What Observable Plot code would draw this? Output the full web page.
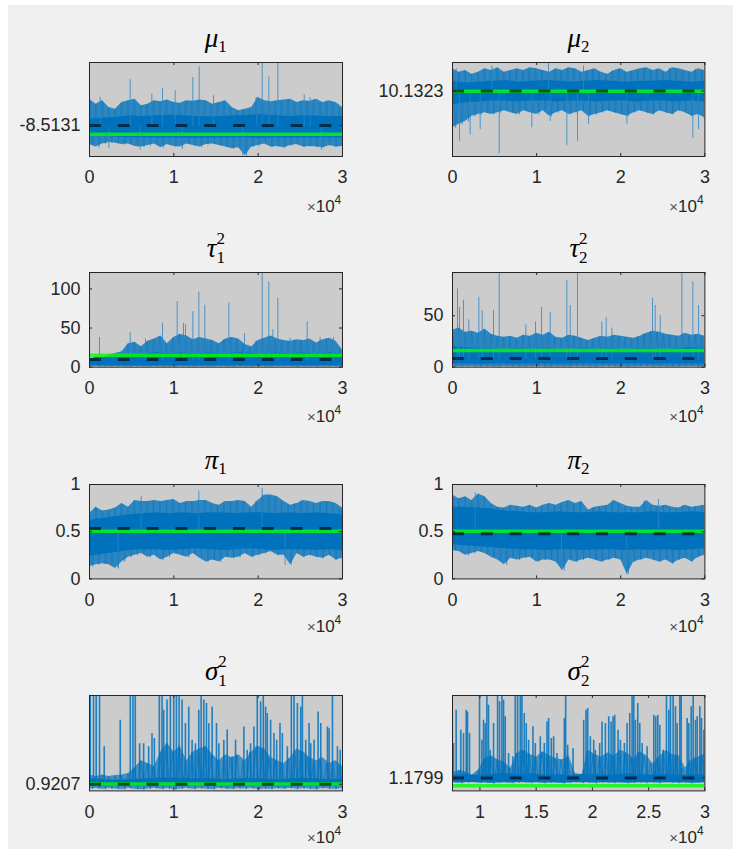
<!DOCTYPE html>
<html><head><meta charset="utf-8">
<script src="https://cdn.jsdelivr.net/npm/d3@7"></script>
<script src="https://cdn.jsdelivr.net/npm/@observablehq/plot@0.6"></script>
<style>
html,body{margin:0;padding:0;background:#fff;}
#root{position:relative;width:738px;height:849px;overflow:hidden;}
#fig{position:absolute;left:8px;top:5px;width:725px;height:844px;background:#f0f0f0;}
.panel{position:absolute;}
#overlay{position:absolute;left:0;top:0;pointer-events:none;}
</style></head>
<body><div id="root"><div id="fig"></div></div>
<script>
// ---------- DATA ----------
const titleSym = ["μ","μ","τ","τ","π","π","σ","σ"];
const titleSub = ["1","2","1","2","1","2","1","2"];
const titleSup = ["","","2","2","","","2","2"];

const ticksX = [0, 10000, 20000, 30000];
const ticksXs2 = [10000, 15000, 20000, 25000, 30000];

// mu1
const mu1Hi = [-7.67,-7.83,-7.72,-7.94,-7.99,-7.78,-7.72,-7.67,-7.88,-7.83,-7.72,-7.75,-7.70,-7.78,-7.80,-7.72,-7.74,-7.70,-7.72,-7.83,-7.78,-7.72,-7.94,-8.04,-7.99,-7.94,-7.62,-7.72,-7.75,-7.72,-7.70,-7.67,-7.78,-7.72,-7.74,-7.67,-7.78,-7.72,-7.78,-7.94];
const mu1Lo = [-9.12,-9.20,-9.10,-9.05,-9.08,-9.12,-9.10,-9.18,-9.20,-9.15,-9.10,-9.22,-9.12,-9.18,-9.20,-9.10,-9.15,-9.20,-9.12,-9.10,-9.15,-9.20,-9.25,-9.22,-9.48,-9.20,-9.15,-9.10,-9.20,-9.18,-9.22,-9.15,-9.12,-9.20,-9.18,-9.20,-9.22,-9.15,-9.20,-9.18];
const mu1CoreHi = [-8.30,-8.28,-8.25,-8.20,-8.22,-8.20,-8.18,-8.20,-8.22,-8.24,-8.22,-8.20,-8.18,-8.17,-8.20,-8.22,-8.20,-8.21,-8.23,-8.22];
const mu1CoreLo = [-8.84,-8.86,-8.88,-8.90,-8.90,-8.91,-8.90,-8.92,-8.92,-8.91,-8.90,-8.90,-8.91,-8.92,-8.90,-8.91,-8.90,-8.91,-8.90,-8.90];
const mu1Spikes = [[1265,-7.62],[4823,-7.05],[7392,-7.51],[8657,-7.32],[10159,-7.40],[12254,-6.98],[13005,-6.64],[14705,-7.56],[19844,-7.62],[20477,-6.40],[21267,-6.96],[22334,-6.40],[25457,-7.53],[26169,-7.62],[18184,-9.48],[2300,-9.25],[6000,-9.3],[11000,-9.28],[27500,-9.3]];
const mu1Ticks = [-8.5131];

// mu2
const mu2Hi = [10.38,10.34,10.36,10.32,10.34,10.38,10.36,10.39,10.34,10.36,10.38,10.36,10.39,10.38,10.36,10.34,10.38,10.36,10.39,10.38,10.34,10.36,10.38,10.34,10.32,10.36,10.38,10.34,10.36,10.38,10.39,10.36,10.38,10.34,10.39,10.38,10.36,10.34,10.38,10.36];
const mu2Lo = [9.72,9.76,9.79,9.85,9.87,9.89,9.87,9.89,9.91,9.89,9.87,9.91,9.89,9.87,9.91,9.85,9.89,9.91,9.87,9.89,9.91,9.85,9.87,9.89,9.91,9.89,9.87,9.85,9.89,9.91,9.89,9.87,9.91,9.89,9.87,9.91,9.89,9.85,9.87,9.83];
const mu2CoreHi = [10.24,10.22,10.23,10.24,10.25,10.23,10.24,10.25,10.24,10.23,10.24,10.25,10.24,10.23,10.24,10.24,10.25,10.24,10.23,10.24];
const mu2CoreLo = [9.98,10.00,10.01,10.02,10.02,10.01,10.02,10.02,10.01,10.02,10.02,10.01,10.02,10.02,10.01,10.02,10.02,10.01,10.02,10.01];
const mu2Spikes = [[436,10.38],[4676,10.41],[11414,10.47],[15575,10.41],[832,9.57],[2100,9.64],[3289,9.70],[5548,9.43],[9432,9.72],[11612,9.79],[13593,9.52],[14861,9.57],[16169,9.76],[20726,9.76],[28573,9.60],[29247,9.70]];
const mu2Ticks = [10.1323];

// tau1^2
const tau1Hi = [8.9,13.2,12,15.3,17.5,19.6,30,32,26,33,36,40,30,38,42,40,35,38,36,34,30,36,38,36,29,26,34,37,40,36,34,33,35,34,36,31,35,37,33,22];
const tau1Lo = [0.5,0.8,0.4,0.6,0.5,0.7,0.4,0.6,0.5,0.3,0.6,0.5,0.4,0.7,0.5,0.6,0.4,0.5,0.6,0.4,0.5,0.7,0.4,0.6,0.5,0.3,0.6,0.5,0.4,0.6,0.5,0.7,0.4,0.5,0.6,0.4,0.5,0.6,0.5,0.4];
const tau1CoreHi = [11,12,13,15,17,18,17,18,17,18,17,18,18,17,18,17,18,17,18,17];
const tau1CoreLo = [2.5,2.2,2,2,1.8,2,2.2,2,1.8,2,2.1,2,1.9,2,2.2,2,1.8,2,2.1,2];
const tau1Spikes = [[1186,38],[4823,44],[6641,36],[8657,56],[10396,84],[11147,56],[11385,54],[12254,71],[12966,96],[13677,79],[16524,82],[18382,43],[20477,125],[21267,109],[21742,48],[22334,88],[23797,37],[25813,58],[27355,38],[28936,38]];
const tau1Ticks = [0, 50, 100];

// tau2^2
const tau2Hi = [36,38,34,35,33,37,32,30,29,30,28,31,30,33,31,34,29,28,31,30,28,26,28,30,29,31,30,29,28,30,33,35,34,32,31,30,33,31,32,30];
const tau2Lo = [0.3,0.5,0.4,0.6,0.3,0.5,0.4,0.3,0.6,0.4,0.5,0.3,0.4,0.6,0.5,0.3,0.4,0.5,0.3,0.6,0.4,0.5,0.3,0.4,0.6,0.5,0.4,0.3,0.5,0.4,0.6,0.3,0.5,0.4,0.3,0.5,0.4,0.6,0.3,0.5];
const tau2CoreHi = [20,19,18,18,17,18,17,18,17,17,18,17,18,17,18,18,17,18,19,18];
const tau2CoreLo = [3,3,2.8,3,3,2.9,3,3,2.8,3,3,3,2.9,3,3,2.8,3,3,3,2.9];
const tau2Spikes = [[594,76],[832,58],[1308,65],[1942,46],[3131,68],[3527,55],[4874,55],[5548,95],[8719,41],[9868,44],[10581,58],[11612,53],[13593,84],[13990,60],[14861,95],[17754,44],[18269,48],[18943,38],[23778,67],[24095,60],[24689,50],[27265,95],[28573,83],[29247,60]];
const tau2Ticks = [0, 50];

// pi1
const pi1Hi = [0.69,0.76,0.72,0.73,0.75,0.80,0.76,0.83,0.82,0.82,0.83,0.82,0.83,0.84,0.80,0.82,0.82,0.83,0.83,0.80,0.78,0.82,0.82,0.83,0.82,0.76,0.83,0.89,0.89,0.87,0.82,0.78,0.80,0.83,0.82,0.80,0.82,0.82,0.80,0.75];
const pi1Lo = [0.13,0.15,0.16,0.15,0.11,0.18,0.23,0.25,0.27,0.23,0.25,0.20,0.23,0.27,0.25,0.23,0.27,0.22,0.18,0.20,0.18,0.23,0.22,0.23,0.27,0.23,0.25,0.27,0.29,0.25,0.25,0.15,0.27,0.23,0.25,0.23,0.22,0.25,0.20,0.22];
const pi1CoreHi = [0.62,0.64,0.66,0.68,0.69,0.70,0.69,0.70,0.69,0.70,0.70,0.69,0.70,0.70,0.69,0.70,0.69,0.70,0.69,0.68];
const pi1CoreLo = [0.24,0.26,0.28,0.30,0.31,0.31,0.30,0.31,0.32,0.31,0.30,0.31,0.32,0.31,0.30,0.31,0.31,0.30,0.31,0.30];
const pi1Spikes = [[6127,0.87],[12966,0.93],[20477,0.96],[3400,0.11],[23200,0.14]];
const piTicks = [0, 0.5, 1];

// pi2
const pi2Hi = [0.89,0.85,0.87,0.83,0.90,0.87,0.80,0.76,0.75,0.78,0.77,0.76,0.78,0.75,0.78,0.80,0.78,0.81,0.83,0.80,0.82,0.73,0.76,0.77,0.78,0.83,0.80,0.77,0.76,0.76,0.83,0.78,0.77,0.78,0.76,0.75,0.78,0.76,0.77,0.78];
const pi2Lo = [0.30,0.29,0.25,0.27,0.29,0.27,0.23,0.20,0.15,0.22,0.20,0.22,0.23,0.18,0.20,0.20,0.18,0.09,0.20,0.18,0.20,0.22,0.20,0.18,0.20,0.22,0.20,0.05,0.18,0.20,0.22,0.20,0.18,0.20,0.16,0.20,0.22,0.18,0.23,0.25];
const pi2CoreHi = [0.76,0.76,0.75,0.74,0.72,0.71,0.70,0.70,0.71,0.70,0.70,0.71,0.70,0.70,0.70,0.71,0.70,0.70,0.71,0.70];
const pi2CoreLo = [0.36,0.35,0.34,0.33,0.32,0.31,0.31,0.30,0.31,0.31,0.30,0.31,0.31,0.30,0.31,0.30,0.31,0.30,0.31,0.32];
const pi2Spikes = [[2700,0.91],[12950,0.09],[20700,0.05],[24500,0.84]];

// sigma1^2
const sig1Hi = [1.24,1.19,1.24,1.19,1.22,1.24,1.29,1.49,1.74,1.64,1.54,2.04,2.34,2.04,2.24,1.74,2.04,2.14,2.24,1.94,1.74,1.94,1.84,1.94,1.74,2.04,2.24,2.14,1.84,1.74,1.64,1.84,2.14,2.04,1.84,1.74,1.84,1.64,1.74,1.54];
const sig1Lo = [0.76,0.78,0.75,0.77,0.76,0.74,0.78,0.75,0.73,0.76,0.78,0.75,0.77,0.74,0.76,0.78,0.75,0.77,0.76,0.74,0.78,0.76,0.75,0.77,0.76,0.78,0.74,0.76,0.75,0.77,0.76,0.78,0.75,0.77,0.76,0.74,0.78,0.76,0.75,0.77];
const sig1CoreHi = [1.10,1.08,1.06,1.08,1.10,1.12,1.15,1.12,1.10,1.12,1.08,1.10,1.12,1.10,1.08,1.10,1.12,1.10,1.08,1.10];
const sig1CoreLo = [0.84,0.83,0.84,0.85,0.84,0.83,0.84,0.84,0.85,0.84,0.83,0.84,0.84,0.85,0.84,0.83,0.84,0.84,0.85,0.84];
const sig1Spikes = [[79,4.6],[476,4.6],[793,4.6],[1189,4.6],[1744,2.22],[3646,3.14],[4835,4.6],[5152,4.34],[5429,4.6],[5945,2.33],[6420,2.33],[7015,2.22],[7411,2.68],[7688,2.51],[8283,4.6],[8600,4.6],[8798,3.49],[9194,3.84],[9590,4.34],[9987,4.6],[10304,4.6],[10621,4.6],[10977,3.84],[11374,3.03],[11770,3.6],[12166,2.45],[12563,2.33],[12959,3.49],[13236,4.6],[13553,3.84],[13870,3.72],[14148,3.03],[14544,3.6],[15059,3.03],[15337,2.33],[15931,2.45],[16328,2.8],[16922,1.87],[17319,2.45],[18309,2.91],[18705,2.1],[19102,2.33],[19498,2.91],[19894,4.6],[20291,3.78],[20608,4.6],[20885,3.6],[21083,3.37],[21480,3.14],[21876,2.68],[22193,2.45],[22589,3.03],[22867,2.68],[23461,2.22],[23937,4.6],[24254,4.6],[24650,3.72],[25046,3.6],[25244,4.34],[25641,2.45],[26037,3.03],[26235,2.33],[26631,2.45],[27107,3.43],[27424,3.03],[28217,2.91],[28415,2.85],[28811,4.6],[29405,2.22],[29723,2.1]];
const sig1Ticks = [0.9207];

// sigma2^2
const sig2Hi = [1.34,1.46,1.40,1.28,1.46,1.9,2.0,1.85,1.75,1.55,2.1,2.2,2.05,1.95,2.15,2.0,1.9,1.85,2.0,1.34,1.30,2.2,2.05,1.95,2.1,2.0,2.2,2.1,1.9,2.15,2.0,1.7,1.95,2.2,2.05,2.0,1.55,1.85,1.95,2.05];
const sig2Lo = [1.02,0.98,1.0,1.03,0.99,1.01,0.97,1.0,1.02,0.98,1.0,1.01,0.99,1.02,0.98,1.0,1.01,0.97,1.0,1.02,0.99,1.0,0.98,1.01,1.0,0.99,1.02,0.98,1.0,1.01,0.99,1.0,0.98,1.02,1.0,0.99,1.01,0.98,1.0,1.0];
const sig2CoreHi = [1.28,1.30,1.27,1.32,1.35,1.30,1.33,1.28,1.30,1.27,1.32,1.30,1.28,1.33,1.30,1.29,1.31,1.28,1.30,1.29];
const sig2CoreLo = [1.0,1.01,1.0,0.99,1.0,1.01,1.0,1.0,0.99,1.0,1.01,1.0,1.0,0.99,1.0,1.01,1.0,1.0,0.99,1.0];
const sig2Spikes = [[7649,2.45],[7886,3.68],[8302,2.94],[8539,2.82],[8777,3.68],[8896,3.62],[9074,2.82],[9964,4.8],[10172,2.57],[10320,3.31],[10469,3.19],[10617,4.8],[10766,3.87],[10914,2.2],[11211,3.19],[11567,4.8],[11745,4.0],[11953,4.8],[12101,4.05],[12249,3.44],[12546,2.08],[12932,1.96],[13140,4.8],[13348,4.3],[13585,4.8],[13733,4.8],[13941,3.56],[14119,3.19],[14327,2.57],[14713,3.07],[14921,2.45],[15366,2.7],[15722,2.45],[15959,3.25],[16108,3.38],[16345,2.64],[16553,2.7],[16850,2.08],[17503,3.38],[17622,4.8],[17800,2.39],[18275,2.27],[19224,3.31],[19432,3.68],[19580,3.75],[19818,2.7],[20115,2.57],[20263,2.2],[20649,2.45],[20857,3.25],[21153,3.19],[21450,3.44],[21658,3.25],[21836,3.44],[21984,3.5],[22281,2.94],[22489,2.57],[22845,2.45],[23083,3.19],[23320,3.56],[23528,4.8],[23676,4.4],[23824,3.31],[24032,3.93],[24210,3.19],[24418,2.45],[24863,2.33],[25457,3.5],[25635,3.44],[25813,3.5],[25991,3.13],[26288,2.2],[26585,4.8],[26793,3.68],[26941,4.8],[27178,4.8],[27386,3.81],[27535,3.19],[27772,4.3],[27891,4.8],[28425,3.38],[28573,3.19],[28781,3.81],[28959,4.8],[29167,3.31],[29316,3.44],[29553,3.81],[29701,3.38],[29909,2.94]];
const sig2Ticks = [1.1799];

// per-panel summary values
const xStart = [0,0,0,0,0,0,0,7560];
const xEnd   = [30000,30000,30000,30000,30000,30000,30000,30000];
const yMin   = [-9.5, 9.4, 0, 0, 0, 0, 0.69, 0.7];
const yMax   = [-6.5, 10.45, 121, 92, 1, 1, 4.0, 4.23];
const greenVal = [-8.79, 10.13, 15.3, 16.2, 0.505, 0.505, 0.93, 0.89];
const truthVal = [-8.5131, 10.1323, 9.8, 8.4, 0.535, 0.477, 0.9207, 1.1799];
const spikeBase = [-8.55, 10.13, 8, 8, 0.5, 0.5, 0.95, 1.1];

const his = [mu1Hi, mu2Hi, tau1Hi, tau2Hi, pi1Hi, pi2Hi, sig1Hi, sig2Hi];
const los = [mu1Lo, mu2Lo, tau1Lo, tau2Lo, pi1Lo, pi2Lo, sig1Lo, sig2Lo];
const coreHis = [mu1CoreHi, mu2CoreHi, tau1CoreHi, tau2CoreHi, pi1CoreHi, pi2CoreHi, sig1CoreHi, sig2CoreHi];
const coreLos = [mu1CoreLo, mu2CoreLo, tau1CoreLo, tau2CoreLo, pi1CoreLo, pi2CoreLo, sig1CoreLo, sig2CoreLo];
const spikesAll = [mu1Spikes, mu2Spikes, tau1Spikes, tau2Spikes, pi1Spikes, pi2Spikes, sig1Spikes, sig2Spikes];
const yTicksAll = [mu1Ticks, mu2Ticks, tau1Ticks, tau2Ticks, piTicks, piTicks, sig1Ticks, sig2Ticks];
const xTicksAll = [ticksX, ticksX, ticksX, ticksX, ticksX, ticksX, ticksX, ticksXs2];

// ---------- LAYOUT ----------
const cols = [{left: 89.3, w: 253}, {left: 452.3, w: 252.4}];
const rows = [{top: 61.7, h: 94}, {top: 272.3, h: 94.7}, {top: 484.3, h: 94.4}, {top: 695.3, h: 95.4}];
const multOffset = [56, 55, 53.5, 52];
const ML = 85, MR = 12, MT = 8, MB = 36;
const BLUE = "#0072BD", AX = "#262626";

const root = document.getElementById("root");
let overlay = "";

for (let p = 0; p < 8; p++) {
  const c = cols[p % 2], r = rows[Math.floor(p / 2)];
  const x0 = xStart[p], x1 = xEnd[p];
  const hi = his[p], lo = los[p];
  const n = hi.length;
  const env = hi.map((h, i) => ({x: x0 + i * (x1 - x0) / (n - 1), y1: lo[i], y2: h}));
  const w = (x1 - x0) / (n - 0.5);
  const zig = [];
  hi.forEach((h, i) => { zig.push({x: x0 + i * w, y: h}); zig.push({x: x0 + (i + 0.5) * w, y: lo[i]}); });
  const m = coreHis[p].length;
  const core = coreHis[p].map((h, i) => ({x: x0 + i * (x1 - x0) / (m - 1), y1: coreLos[p][i], y2: h}));
  const spk = spikesAll[p].map(([x, y]) => ({x, y1: spikeBase[p], y2: y}));
  const fw = c.w, fh = r.h;
  const isSig = p >= 6;

  const chart = Plot.plot({
    width: ML + fw + MR, height: MT + fh + MB,
    marginLeft: ML, marginRight: MR, marginTop: MT, marginBottom: MB,
    x: {domain: [x0, x1], label: null},
    y: {domain: [yMin[p], yMax[p]], label: null},
    style: {background: "transparent", fontFamily: "'Liberation Sans', Arial, Helvetica, sans-serif", fontSize: "18px", color: AX, overflow: "visible"},
    marks: [
      Plot.frame({fill: "#cccccc", stroke: null}),
      Plot.areaY(env, {x: "x", y1: "y1", y2: "y2", fill: BLUE, fillOpacity: isSig ? 0.68 : 0.78, clip: true}),
      Plot.line(zig, {x: "x", y: "y", stroke: BLUE, strokeWidth: 0.8, strokeOpacity: isSig ? 0.8 : 0.5, clip: true}),
      Plot.areaY(core, {x: "x", y1: "y1", y2: "y2", fill: BLUE, clip: true}),
      Plot.ruleX(spk, {x: "x", y1: "y1", y2: "y2", stroke: isSig ? BLUE : "#2a86c8", strokeWidth: isSig ? 1.6 : 1, strokeOpacity: isSig ? 0.85 : 0.8, clip: true}),
      Plot.ruleY([greenVal[p]], {stroke: "#00ff00", strokeOpacity: 0.8, strokeWidth: 3.5}),
      Plot.ruleY([truthVal[p]], {stroke: "#000", strokeOpacity: 0.6, strokeWidth: 3, strokeDasharray: "12,16.8"}),
      Plot.tickX(xTicksAll[p], {x: d => d, insetTop: fh - 3, stroke: AX}),
      Plot.tickX(xTicksAll[p], {x: d => d, insetBottom: fh - 3, stroke: AX}),
      Plot.tickY(yTicksAll[p], {y: d => d, insetRight: fw - 3, stroke: AX}),
      Plot.tickY(yTicksAll[p], {y: d => d, insetLeft: fw - 3, stroke: AX}),
      Plot.axisX(xTicksAll[p], {tickSize: 0, tickPadding: 14, tickFormat: d => String(d / 1e4), label: null, fill: AX}),
      Plot.axisY(yTicksAll[p], {tickSize: 0, tickPadding: 9, tickFormat: d => String(d), label: null, fill: AX}),
      Plot.frame({stroke: AX, strokeWidth: 1})
    ]
  });
  const div = document.createElement("div");
  div.className = "panel";
  div.style.left = (c.left - ML) + "px";
  div.style.top = (r.top - MT) + "px";
  div.appendChild(chart);
  root.appendChild(div);

  const cx = c.left + fw / 2;
  const by = r.top - 15;
  let t = `<text x="${cx}" y="${by}" text-anchor="middle" font-family="'Liberation Serif','DejaVu Serif',serif" font-size="27" fill="#000"><tspan font-style="italic">${titleSym[p]}</tspan>`;
  if (titleSup[p]) t += `<tspan font-size="17" dy="-13">${titleSup[p]}</tspan><tspan font-size="17" dx="-8.5" dy="19">${titleSub[p]}</tspan>`;
  else t += `<tspan font-size="17" dy="5">${titleSub[p]}</tspan>`;
  t += `</text>`;
  overlay += t;
  overlay += `<text x="${c.left + fw - 1}" y="${r.top + fh + multOffset[Math.floor(p / 2)]}" text-anchor="end" font-family="'Liberation Sans',Arial,sans-serif" font-size="17" fill="${AX}"><tspan font-size="15" fill="#555">×</tspan>10<tspan font-size="12" dy="-8">4</tspan></text>`;
}
const ov = document.createElementNS("http://www.w3.org/2000/svg", "svg");
ov.setAttribute("id", "overlay");
ov.setAttribute("width", 738);
ov.setAttribute("height", 849);
ov.innerHTML = overlay;
root.appendChild(ov);
</script>
</body></html>
